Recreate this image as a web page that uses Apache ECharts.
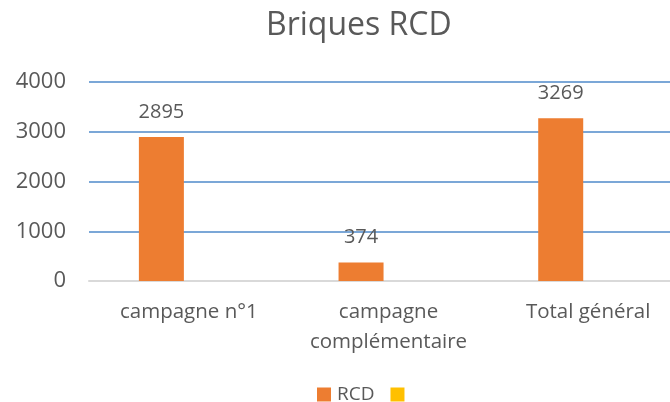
<!DOCTYPE html>
<html>
<head>
<meta charset="utf-8">
<script src="https://cdn.jsdelivr.net/npm/echarts@6/dist/echarts.min.js"></script>
<style>
  html, body { margin: 0; padding: 0; background: #fff; }
  #chart { width: 670px; height: 402px; }
</style>
</head>
<body>
<div id="chart"></div>
<script>
// data
var categories = ['campagne n°1', 'campagne\ncomplémentaire', 'Total général']
var rcdValues = [2895, 374, 3269]
var secondValues = [null, null, null]
var yTicks = [0, 1000, 2000, 3000, 4000]

var chart = echarts.init(document.getElementById('chart'))

var textColor = '#595959'
var font = 'Open Sans'

var option = {
  animation: false,
  title: {
    text: 'Briques RCD',
    left: 261,
    top: 5,
    textStyle: {
      color: textColor,
      fontFamily: font,
      fontWeight: 'normal',
      fontSize: 32
    }
  },
  legend: {
    data: ['RCD', ' '],
    top: 385,
    left: 317,
    padding: 0,
    icon: 'rect',
    itemWidth: 14,
    itemHeight: 14,
    itemGap: 16,
    textStyle: {
      color: textColor,
      fontFamily: font,
      fontSize: 19,
      padding: [0, 0, 0, 1]
    }
  },
  // the plot area runs past the right edge, as in the cropped original
  grid: {
    left: 89,
    right: -18,
    top: 82,
    bottom: 121,
    containLabel: false,
    outerBoundsMode: 'none'
  },
  xAxis: {
    type: 'category',
    data: categories,
    axisTick: { show: false },
    axisLine: { lineStyle: { color: '#D9D9D9', width: 2 } },
    axisLabel: {
      color: textColor,
      fontFamily: font,
      fontSize: 20.5,
      margin: 16,
      lineHeight: 30,
      interval: 0
    }
  },
  yAxis: {
    type: 'value',
    min: yTicks[0],
    max: yTicks[yTicks.length - 1],
    interval: 1000,
    axisLine: { show: false },
    axisTick: { show: false },
    splitLine: { lineStyle: { color: '#7BA7D7', width: 2 } },
    axisLabel: {
      color: textColor,
      fontFamily: font,
      fontSize: 22,
      margin: 23,
      formatter: function (v) { return String(v) }
    }
  },
  series: [{
    name: 'RCD',
    type: 'bar',
    barWidth: 45,
    barGap: '22%',
    itemStyle: { color: '#ED7D31' },
    label: {
      show: true,
      position: 'top',
      distance: 15,
      color: textColor,
      fontFamily: font,
      fontSize: 20
    },
    data: rcdValues
  }, {
    name: ' ',
    type: 'bar',
    barWidth: 45,
    itemStyle: { color: '#FFC000' },
    data: secondValues
  }]
}

chart.setOption(option)
</script>
</body>
</html>
